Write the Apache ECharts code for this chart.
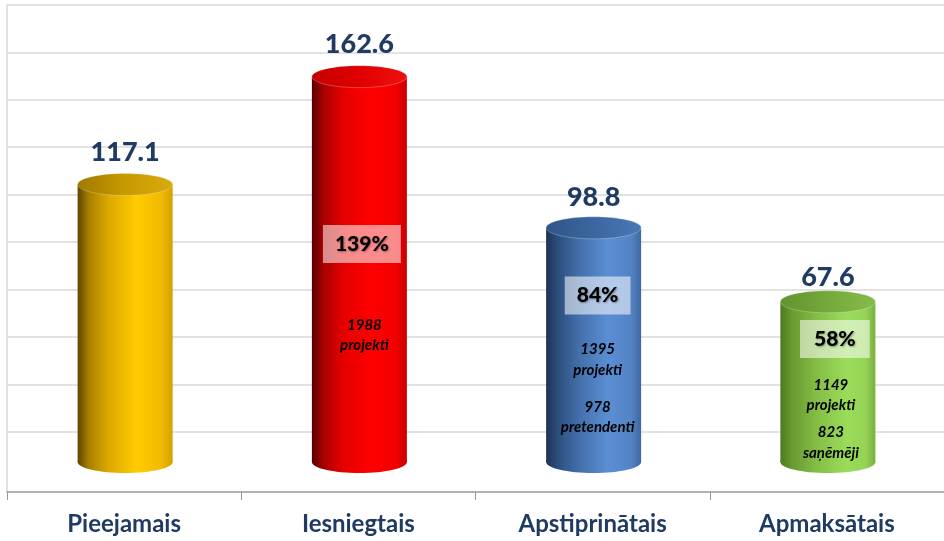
<!DOCTYPE html>
<html>
<head>
<meta charset="utf-8">
<script src="https://cdn.jsdelivr.net/npm/echarts@6/dist/echarts.min.js"></script>
<style>
  html, body { margin: 0; padding: 0; background: #ffffff; }
  #chart { width: 944px; height: 541px; }
</style>
</head>
<body>
<div id="chart"></div>
<script>
// ---- data ----
const categories = ['Pieejamais', 'Iesniegtais', 'Apstiprinātais', 'Apmaksātais'];
const values = [117.1, 162.6, 98.8, 67.6];
const percentLabels = ['', '139%', '84%', '58%'];
const noteNumbers = [[], ['1988'], ['1395', '978'], ['1149', '823']];
const noteWords = [[], ['projekti'], ['projekti', 'pretendenti'], ['projekti', 'saņēmēji']];
const gridTicks = [20, 200, 20]; // min, max, step of back-wall gridlines

// ---- styles ----
const FONT = 'Lato, "Open Sans", "Liberation Sans", sans-serif';
const NAVY = '#1F3B63';
const bodyStops = [
  [[0, '#5e4600'], [0.12, '#a88000'], [0.32, '#dca800'], [0.62, '#ffcb00'], [0.88, '#f2bb00'], [1, '#d4a000']],
  [[0, '#560000'], [0.12, '#a80000'], [0.32, '#e40000'], [0.62, '#ff0000'], [0.88, '#f40000'], [1, '#c80000']],
  [[0, '#1d3350'], [0.12, '#2c4e7e'], [0.35, '#4470ab'], [0.65, '#5a8ed3'], [0.9, '#5383c4'], [1, '#3d679f']],
  [[0, '#4c7a20'], [0.12, '#679a31'], [0.38, '#84bd46'], [0.7, '#9bdc5a'], [0.9, '#94d355'], [1, '#79ae3c']]
];
const topStops = [
  [[0, '#a07800'], [0.5, '#c89a00'], [1, '#d8aa10']],
  [[0, '#c40000'], [0.5, '#e00000'], [1, '#f01010']],
  [[0, '#2f5587'], [0.5, '#3b66a0'], [1, '#4a79b6']],
  [[0, '#62922e'], [0.5, '#76a83c'], [1, '#86bb4a']]
];
const valueLabelGap = [32.5, 32.5, 31, 24.5];
const annotLayout = [
  null,
  { boxDx: 2.5, boxDy: 167.4, boxPad: [8, 12], noteDx: 5, noteDy: [258.4] },
  { boxDx: 4, boxDy: 67.7, boxPad: [8, 12], noteDx: 4, noteDy: [131.7, 189.2] },
  { boxDx: 7, boxDy: 37.2, boxPad: [8, 14], noteDx: 3, noteDy: [93.2, 140.7] }
];
const CYL_W = 95, ELL_H = 22;

function grad(stops) {
  return new echarts.graphic.LinearGradient(0, 0, 1, 0,
    stops.map(s => ({ offset: s[0], color: s[1] })));
}

function renderCylinder(params, api) {
  const i = api.value(0);
  const v = api.value(1);
  const top = api.coord([i, v]);
  const base = api.coord([i, 0]);
  const cx = top[0] + 1;
  const children = [];
  children.push({
    type: 'ellipse', z2: 1,
    shape: { cx: cx, cy: base[1], rx: CYL_W / 2, ry: ELL_H / 2 },
    style: { fill: grad(bodyStops[i]) }
  });
  children.push({
    type: 'rect', z2: 2,
    shape: { x: cx - CYL_W / 2, y: top[1], width: CYL_W, height: base[1] - top[1] },
    style: { fill: grad(bodyStops[i]) }
  });
  children.push({
    type: 'ellipse', z2: 3,
    shape: { cx: cx, cy: top[1], rx: CYL_W / 2, ry: ELL_H / 2 },
    style: { fill: grad(topStops[i]), stroke: 'rgba(255,255,255,0.25)', lineWidth: 1 }
  });
  children.push({
    type: 'text', z2: 5,
    x: cx, y: top[1] - valueLabelGap[i],
    style: {
      text: values[i].toFixed(1), fill: NAVY, fontFamily: FONT, fontWeight: 900,
      fontSize: 27, align: 'center', verticalAlign: 'middle'
    }
  });
  const lay = annotLayout[i];
  if (lay) {
    children.push({
      type: 'text', z2: 6,
      x: cx + lay.boxDx, y: top[1] + lay.boxDy,
      style: {
        text: percentLabels[i], fill: '#000', fontFamily: FONT, fontWeight: 900,
        fontSize: 21, lineHeight: 22, align: 'center', verticalAlign: 'middle',
        backgroundColor: 'rgba(255,255,255,0.55)', padding: lay.boxPad,
        textShadowColor: 'rgba(0,0,0,0.35)', textShadowBlur: 2,
        textShadowOffsetX: 1, textShadowOffsetY: 1
      }
    });
    noteNumbers[i].forEach((num, k) => {
      children.push({
        type: 'text', z2: 6,
        x: cx + lay.noteDx, y: top[1] + lay.noteDy[k],
        style: {
          text: num + '\n' + noteWords[i][k], fill: '#000', fontFamily: FONT,
          fontWeight: 'bold', fontStyle: 'italic', fontSize: 15, lineHeight: 20.5,
          align: 'center', verticalAlign: 'middle'
        }
      });
    });
  }
  return { type: 'group', children: children };
}

const chart = echarts.init(document.getElementById('chart'), null, { renderer: 'canvas' });
chart.setOption({
  animation: false,
  backgroundColor: '#ffffff',
  grid: [
    { left: 7, right: -9, top: 5, bottom: 49 },
    { left: 7, right: -9, top: 5, bottom: 109.3 }
  ],
  xAxis: [
    {
      type: 'category', gridIndex: 0, data: categories, boundaryGap: true,
      axisLine: { show: true, onZero: false, lineStyle: { color: '#9a9a9a', width: 1.5 } },
      axisTick: { show: true, length: 8, lineStyle: { color: '#9a9a9a', width: 1 } },
      axisLabel: { margin: 20, color: NAVY, fontFamily: FONT, fontWeight: 'bold', fontSize: 24 },
      splitLine: { show: false }
    },
    { type: 'category', gridIndex: 1, data: categories, show: false }
  ],
  yAxis: [
    {
      type: 'value', gridIndex: 0, min: -12.66, max: 192.83,
      axisLine: { show: true, lineStyle: { color: '#d9d9d9', width: 1.5 } },
      axisTick: { show: false }, axisLabel: { show: false }, splitLine: { show: false }
    },
    {
      type: 'value', gridIndex: 1, min: gridTicks[0], max: gridTicks[1], interval: gridTicks[2],
      axisLine: { show: false }, axisTick: { show: false }, axisLabel: { show: false },
      splitLine: { show: true, lineStyle: { color: '#e2e2e2', width: 2 } }
    }
  ],
  series: [
    {
      type: 'custom', xAxisIndex: 0, yAxisIndex: 0,
      renderItem: renderCylinder,
      data: values.map((v, i) => [i, v]),
      encode: { x: 0, y: 1 },
      clip: false, z: 3
    }
  ]
});
</script>
</body>
</html>
